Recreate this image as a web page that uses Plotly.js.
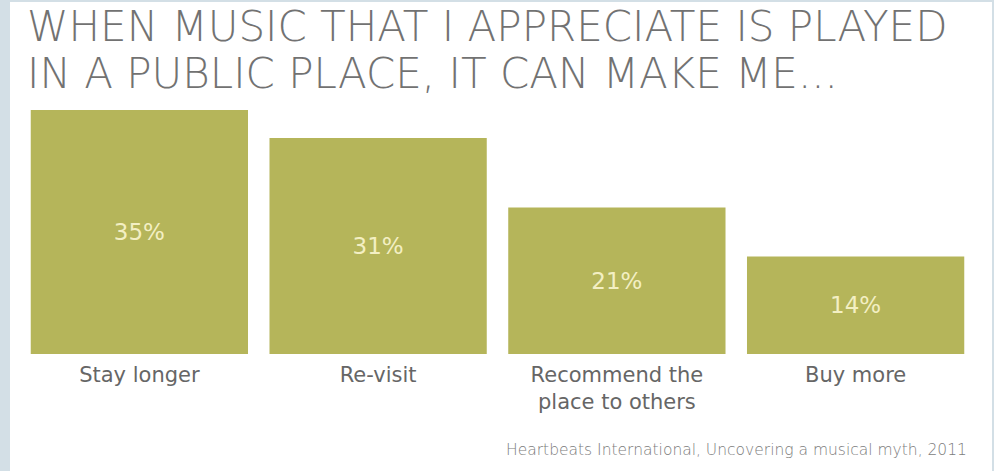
<!DOCTYPE html>
<html>
<head>
<meta charset="utf-8">
<script src="https://cdn.plot.ly/plotly-3.0.1.min.js"></script>
<style>
  html, body { margin: 0; padding: 0; background: #d3dfe6; width: 994px; height: 471px; overflow: hidden; }
  #chart { position: absolute; left: 10px; top: 2px; width: 982px; height: 469px; background: #ffffff; }
</style>
</head>
<body>
<div id="chart"></div>
<script>
const categories = ["Stay longer", "Re-visit", "Recommend the<br>place to others", "Buy more"];
const values = [35, 31, 21, 14];
const valueLabels = ["35%", "31%", "21%", "14%"];
const titleLines = ["WHEN MUSIC THAT I APPRECIATE IS PLAYED", "IN A PUBLIC PLACE, IT CAN MAKE ME..."];
const sourceText = "Heartbeats International, Uncovering a musical myth, 2011";

const FONT = "DejaVu Sans, sans-serif";

const trace = {
  type: "bar",
  x: categories,
  y: values,
  text: valueLabels,
  textposition: "inside",
  insidetextanchor: "middle",
  textangle: 0,
  textfont: { family: FONT, size: 23, color: "#f3efc3", weight: 400 },
  marker: { color: "#b5b55a", line: { width: 0 } },
  hoverinfo: "none"
};

const layout = {
  width: 982,
  height: 469,
  margin: { l: 10, r: 17, t: 108, b: 117 },
  paper_bgcolor: "#ffffff",
  plot_bgcolor: "#ffffff",
  bargap: 0.09,
  showlegend: false,
  font: { family: FONT, color: "#5a5a5a" },
  xaxis: {
    type: "category",
    showgrid: false, zeroline: false, showline: false,
    ticks: "",
    ticklabelstandoff: 6,
    tickfont: { family: FONT, size: 21, color: "#666666", weight: 400 },
    fixedrange: true
  },
  yaxis: {
    range: [0, 35],
    visible: false,
    fixedrange: true
  },
  annotations: [
    { text: titleLines[0], xref: "paper", yref: "paper", x: 0.005, y: 1.344, xanchor: "left", yanchor: "middle",
      showarrow: false, font: { family: FONT, size: 42, color: "#727272", weight: 200 } },
    { text: titleLines[1], xref: "paper", yref: "paper", x: 0.005, y: 1.148, xanchor: "left", yanchor: "middle",
      showarrow: false, font: { family: FONT, size: 42, color: "#727272", weight: 200 } },
    { text: sourceText, xref: "paper", yref: "paper", x: 0.994, y: -0.393, xanchor: "right", yanchor: "middle",
      showarrow: false, font: { family: FONT, size: 15.5, color: "#7c7c7c", weight: 300 } }
  ]
};

Plotly.newPlot("chart", [trace], layout, { displayModeBar: false, staticPlot: true });
</script>
</body>
</html>
